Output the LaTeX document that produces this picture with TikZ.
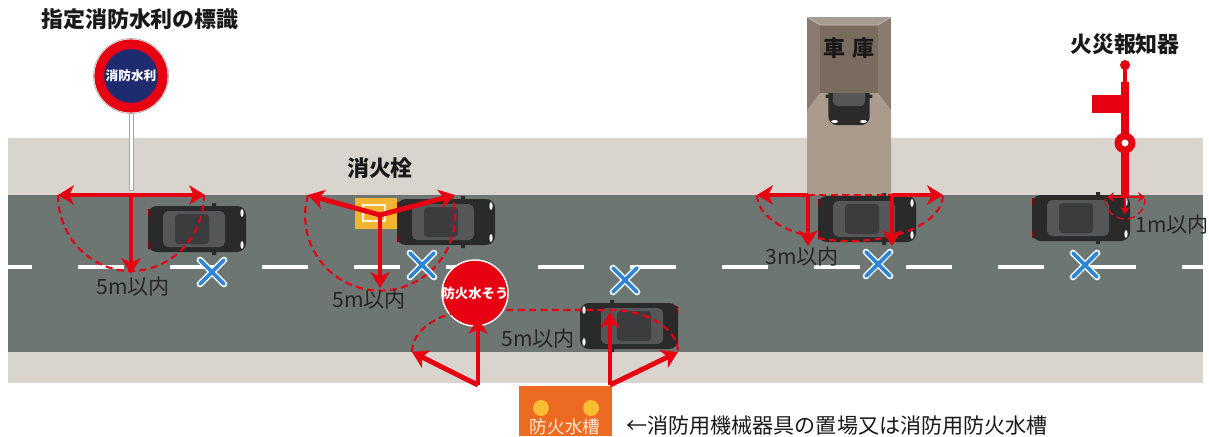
\documentclass[tikz,border=0pt]{standalone}
\usepackage{fontspec}
\setmainfont{Noto Sans CJK JP}
\usetikzlibrary{arrows.meta}

\definecolor{road}{HTML}{6E7673}
\definecolor{walk}{HTML}{D9D4CD}
\definecolor{fire}{HTML}{E60012}
\definecolor{navy}{HTML}{1E2B6E}
\definecolor{xblue}{HTML}{2F86D4}
\definecolor{garage}{HTML}{8A7B6E}
\definecolor{garagein}{HTML}{7A6B5F}
\definecolor{floor}{HTML}{AA9B8D}
\definecolor{hydrant}{HTML}{F2B531}
\definecolor{tank}{HTML}{EC6A21}
\definecolor{lamp}{HTML}{F8BD33}
\definecolor{carbody}{HTML}{2A2A2B}
\definecolor{carglass}{HTML}{555657}
\definecolor{carroof}{HTML}{3C3C3E}

\begin{document}
\begin{tikzpicture}[x=0.02cm,y=-0.02cm,
    redarrow/.style={draw=fire,line width=2.8pt,-{Stealth[length=9pt,width=11pt,inset=2.5pt]}},
    smallarrow/.style={draw=fire,line width=1.3pt,-{Stealth[length=4pt,width=5.5pt]}},
    zonecurve/.style={draw=fire,line width=1.2pt,dash pattern=on 4pt off 2.5pt},
    distlabel/.style={font=\fontsize{12}{12}\selectfont,text=black!85},
    headline/.style={font=\bfseries\fontsize{12.5}{13}\selectfont,text=black!90},
    nopark/.pic={
      \draw[white,line width=3.8pt,line cap=round] (-12,-12) -- (12,12) (-12,12) -- (12,-12);
      \draw[xblue,line width=2.2pt,line cap=round] (-12,-12) -- (12,12) (-12,12) -- (12,-12);
    },
    car/.pic={
      \fill[carbody,rounded corners=5pt] (-49,-23) rectangle (49,23);
      \fill[carbody] (15,-26) rectangle (19,-22) (15,22) rectangle (19,26);
      \fill[carglass,rounded corners=3pt] (-34,-18) rectangle (28,18);
      \fill[carroof,rounded corners=2pt] (-22,-15) rectangle (12,15);
      \fill[fire!60!black] (-49,-20) rectangle (-47,-13) (-49,13) rectangle (-47,20);
      \fill[white] (45,-16) ellipse (0.9pt and 2.2pt) (45,16) ellipse (0.9pt and 2.2pt);
    }]
\useasboundingbox (0,0) rectangle (1209,436);

% street
\fill[walk] (8,138) rectangle (1203,383);
\fill[road] (8,195) rectangle (1203,352);
\begin{scope}
  \clip (8,195) rectangle (1203,352);
  \foreach \x in {-14,78,...,1182}
    \fill[white] (\x,265) rectangle (\x+46,269);
\end{scope}

% garage
\fill[garage] (807,17) rectangle (891,195);
\fill[floor] (820,93) -- (878,93) -- (891,110) -- (891,195) -- (807,195) -- (807,110) -- cycle;
\pic[scale=0.9,rotate=-90] at (849,81) {car};
\fill[garagein] (820,25) rectangle (878,93);
\fill[garage!75!white] (807,17) -- (891,17) -- (878,25) -- (820,25) -- cycle;
\draw[garage!50!white,line width=0.4pt] (807,17) -- (820,25) -- (878,25) -- (891,17);
\node[headline] (garagename) at (849,48) {車\hspace{0.35em}庫};

% cars on the road
\pic at (197,229) {car};
\pic at (446,222) {car};
\pic[rotate=180] at (629,326) {car};
\pic at (867,219) {car};
\pic at (1081,218) {car};

% designated water sign
\fill[white] (129,113) rectangle (133,190);
\draw[gray!70,line width=0.3pt] (129,113) rectangle (133,190);
\node[circle,draw=fire,fill=navy,line width=5.5pt,minimum size=1.27cm,inner sep=0] (mark) at (131,76) {};
\draw[gray!60,line width=0.4pt] (mark.center) circle (37.5);
\node[text=white,font=\bfseries\fontsize{7.2}{7.5}\selectfont,inner sep=0] at (mark.center) {消防水利};
\node[headline] (markname) at (140,19) {指定消防水利の標識};

% hydrant
\node[fill=hydrant,minimum width=0.84cm,minimum height=0.62cm,inner sep=0] (hydrant) at (376,213) {};
\draw[white!85!hydrant,line width=1.2pt] (363,205) rectangle (385,221);
\node[headline] (hydrantname) at (380,168) {消火栓};

% fire alarm post
\fill[fire] (1123,65) rectangle (1127,82);
\fill[fire] (1121,82) rectangle (1129,196);
\fill[fire] (1125,65) circle (5);
\fill[fire] (1092,95) rectangle (1122,113);
\fill[fire] (1125,143) circle (10.5);
\fill[white] (1125,143) circle (3.5);
\node[headline] (alarmname) at (1125,44) {火災報知器};

% 5m zone around the sign
\coordinate (m0) at (131,195);
\coordinate (ml) at (58,195);
\coordinate (mr) at (205,195);
\coordinate (md) at (131,274);
\draw[zonecurve] (ml) arc[start angle=180,end angle=0,x radius=73,y radius=76];
\draw[redarrow] (m0) -- (ml);
\draw[redarrow] (m0) -- (mr);
\draw[redarrow] (m0) -- (md);
\node[distlabel] at (133,287) {5m以内};

% 5m zone around the hydrant
\coordinate (h0) at (380,215);
\coordinate (hl) at (308,195);
\coordinate (hr) at (455,195);
\coordinate (hd) at (380,288);
\draw[zonecurve] (hl) arc[start angle=196,end angle=-16,radius=75];
\draw[redarrow] (h0) -- (hl);
\draw[redarrow] (h0) -- (hr);
\draw[redarrow] (h0) -- (hd);
\node[distlabel] at (369,300) {5m以内};

% cistern sign and tank box
\fill[white] (476,320) rectangle (480,392);
\node[circle,fill=fire,draw=white,line width=0.8pt,minimum size=1.32cm,inner sep=0] (cistern) at (475,293) {};
\node[text=white,font=\bfseries\fontsize{7.6}{8}\selectfont] at (cistern.center) {防火水そう};

\node[fill=tank,minimum width=1.86cm,minimum height=1cm,inner sep=0,anchor=north west] (tankbox) at (519,386) {};
\fill[lamp] (541,408) circle (8);
\fill[lamp] (591,408) circle (8);
\node[text=orange!15!white,font=\fontsize{10}{10}\selectfont] at (565,427) {防火水槽};
\node[anchor=west,font=\fontsize{12}{12}\selectfont,text=black!90] (note) at (620,426) {←消防用機械器具の置場又は消防用防火水槽};

\coordinate (c0) at (478,385);
\coordinate (cl) at (412,352);
\coordinate (cu) at (478,318);
\coordinate (t0) at (610,385);
\coordinate (tu) at (610,312);
\coordinate (tr) at (678,352);
\draw[zonecurve] (cl) arc[start angle=180,end angle=270,x radius=66,y radius=42]
  -- (610,310) arc[start angle=270,end angle=360,x radius=68,y radius=42];
\draw[redarrow] (c0) -- (cl);
\draw[redarrow] (c0) -- (cu);
\draw[redarrow] (t0) -- (tu);
\draw[redarrow] (t0) -- (tr);
\node[distlabel] at (538,339) {5m以内};

% 3m zone at the garage
\coordinate (gl) at (808,195);
\coordinate (gr) at (892,195);
\coordinate (gll) at (757,195);
\coordinate (grr) at (943,195);
\coordinate (gld) at (808,246);
\coordinate (grd) at (892,246);
\draw[zonecurve] (gll) arc[start angle=180,end angle=0,x radius=93,y radius=46];
\draw[zonecurve] (gl) -- (gr);
\draw[redarrow] (gl) -- (gll);
\draw[redarrow] (gl) -- (gld);
\draw[redarrow] (gr) -- (grr);
\draw[redarrow] (gr) -- (grd);
\node[distlabel] at (802,257) {3m以内};

% 1m zone at the alarm
\coordinate (a0) at (1125,197);
\coordinate (al) at (1107,197);
\coordinate (ar) at (1145,197);
\coordinate (ad) at (1125,214);
\draw[zonecurve,line width=0.8pt] (1105,199) arc[start angle=180,end angle=0,radius=20];
\draw[smallarrow] (a0) -- (al);
\draw[smallarrow] (a0) -- (ar);
\draw[smallarrow] (a0) -- (ad);
\node[distlabel] at (1172,225) {1m以内};

% no parking marks
\pic at (212,272) {nopark};
\pic at (422,265) {nopark};
\pic at (625,280) {nopark};
\pic at (878,264) {nopark};
\pic at (1085,265) {nopark};
\end{tikzpicture}
\end{document}
